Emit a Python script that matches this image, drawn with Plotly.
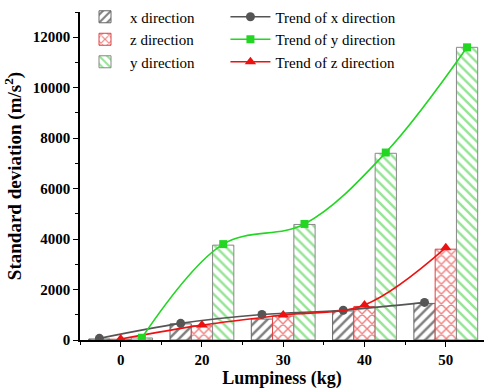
import plotly.graph_objects as go

categories = ["0", "20", "30", "40", "50"]
x_bar = [40, 640, 830, 1150, 1450]
z_bar = [30, 560, 950, 1330, 3600]
y_bar = [80, 3760, 4580, 7400, 11600]
x_trend = [65, 660, 1010, 1180, 1490]
z_trend = [40, 590, 990, 1390, 3660]
y_trend = [90, 3800, 4600, 7430, 11600]

pos = list(range(len(categories)))

GREEN = "#22d622"
RED = "#ee1111"
GREY = "#555555"
SERIF = "Liberation Serif, Times New Roman, serif"

fig = go.Figure()

def bar(name, vals, shape, fg, outline, grp):
    fig.add_trace(go.Bar(
        x=pos, y=vals, name=name, offsetgroup=grp, legend="legend",
        marker=dict(color="white",
                    line=dict(color=outline, width=1),
                    pattern=dict(shape=shape, fgcolor=fg, bgcolor="white",
                                 size=7, solidity=0.36, fillmode="overlay")),
    ))

bar("x direction", x_bar, "/", "#000000", "#666666", "x")
bar("z direction", z_bar, "x", "#e00000", "#dd4444", "z")
bar("y direction", y_bar, "\\", "#2ec82e", "#888888", "y")

def trend(name, vals, color, symbol, size, grp, rank):
    fig.add_trace(go.Scatter(
        x=pos, y=vals, name=name, mode="lines+markers", offsetgroup=grp,
        legend="legend2", legendrank=rank,
        line=dict(color=color, width=1.6, shape="spline", smoothing=1.0),
        marker=dict(color=color, symbol=symbol, size=size),
    ))

trend("Trend of x direction", x_trend, GREY, "circle", 9, "x", 1)
trend("Trend of z direction", z_trend, RED, "triangle-up", 10, "z", 3)
trend("Trend of y direction", y_trend, GREEN, "square", 8, "y", 2)

fig.update_layout(
    width=484, height=389,
    margin=dict(l=80, r=0, t=12, b=49),
    paper_bgcolor="white", plot_bgcolor="white",
    barmode="group", bargap=0.215, bargroupgap=0,
    scattermode="group", scattergap=0.215,
    font=dict(family=SERIF, size=15, color="black"),
    showlegend=True,
    legend=dict(x=0.0, y=1.035, xanchor="left", yanchor="top",
                font=dict(family=SERIF, size=15), bgcolor="rgba(0,0,0,0)",
                tracegroupgap=0, itemwidth=40),
    legend2=dict(x=0.36, y=1.035, xanchor="left", yanchor="top",
                 font=dict(family=SERIF, size=15), bgcolor="rgba(0,0,0,0)",
                 tracegroupgap=0, itemwidth=40, traceorder="normal"),
)

fig.update_xaxes(
    range=[-0.5, 4.47], tickmode="array", tickvals=pos, ticktext=categories,
    showline=True, linecolor="black", linewidth=1.5,
    ticks="outside", ticklen=5, tickwidth=1, tickcolor="black",
    minor=dict(tick0=0.5, dtick=1, ticks="outside", ticklen=3, tickcolor="black"),
    showgrid=False, zeroline=False,
    tickfont=dict(family=SERIF, size=15, weight="bold"),
    title=dict(text="<b>Lumpiness (kg)</b>", font=dict(family=SERIF, size=18), standoff=2),
)
fig.update_yaxes(
    range=[0, 13000], tickmode="linear", tick0=0, dtick=2000, tickformat="d",
    showline=True, linecolor="black", linewidth=1.5,
    ticks="outside", ticklen=5, tickwidth=1, tickcolor="black",
    minor=dict(dtick=1000, ticks="outside", ticklen=3, tickcolor="black"),
    showgrid=False, zeroline=False,
    tickfont=dict(family=SERIF, size=15, weight="bold"),
    title=dict(text="<b>Standard deviation (m/s<sup>2</sup>)</b>", font=dict(family=SERIF, size=19), standoff=6),
)

fig.write_html("out.html", config={"displayModeBar": False},
               post_script="document.body.style.margin='0px';")
